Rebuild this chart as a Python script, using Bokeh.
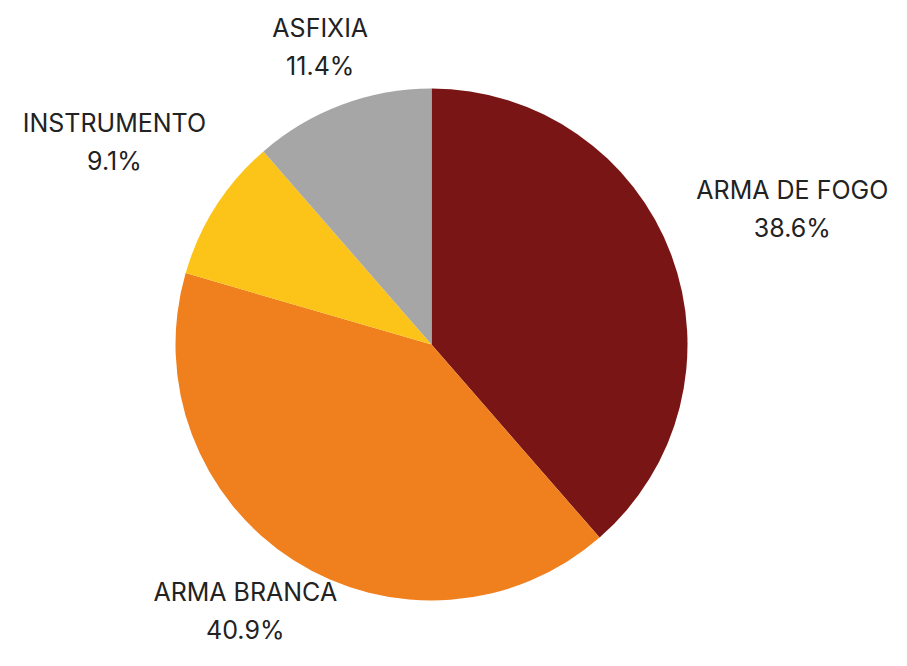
import numpy as np
from bokeh.plotting import figure
from bokeh.models import ColumnDataSource, Range1d
from bokeh.core.properties import value
from bokeh.embed import file_html
from bokeh.resources import INLINE

categories = ["ARMA DE FOGO", "ARMA BRANCA", "INSTRUMENTO", "ASFIXIA"]
shares = [38.6, 40.9, 9.1, 11.4]
colors = ["#7a1515", "#f07f1e", "#fcc419", "#a6a6a6"]

W, H = 891, 650
cx, cy, R = 431, 306, 256
label_dist = [1.505, 1.235, 1.47, 1.24]  # layout: label distance in radii
label_dx = [0, -16, 0, 0]                # layout: horizontal nudge (px)
line_gap = 19

vals = np.array(shares) / 100.0
cum = np.concatenate([[0], np.cumsum(vals)])
# clockwise from 12 o'clock
start = np.pi / 2 - cum[1:] * 2 * np.pi
end = np.pi / 2 - cum[:-1] * 2 * np.pi
mid = (start + end) / 2

src = ColumnDataSource(dict(start=start, end=end, color=colors))

p = figure(width=W, height=H, output_backend="svg", toolbar_location=None,
           x_range=Range1d(0, W), y_range=Range1d(0, H), min_border=0)
p.axis.visible = False
p.grid.visible = False
p.outline_line_color = None
p.background_fill_color = "white"

p.wedge(x=cx, y=cy, radius=R, start_angle="start", end_angle="end",
        fill_color="color", line_color=None, source=src)

lx = cx + np.array(label_dist) * R * np.cos(mid) + np.array(label_dx)
ly = cy + np.array(label_dist) * R * np.sin(mid)
names = dict(x=lx, y=ly + line_gap, t=categories)
pcts = dict(x=lx, y=ly - line_gap, t=[f"{s:.1f}%" for s in shares])
for d in (names, pcts):
    p.text(x="x", y="y", text="t", source=ColumnDataSource(d),
           text_align="center", text_baseline="middle",
           text_font=value("Inter"), text_font_size="25px",
           text_color="#222222")

open("out.html", "w").write(file_html(p, INLINE))
